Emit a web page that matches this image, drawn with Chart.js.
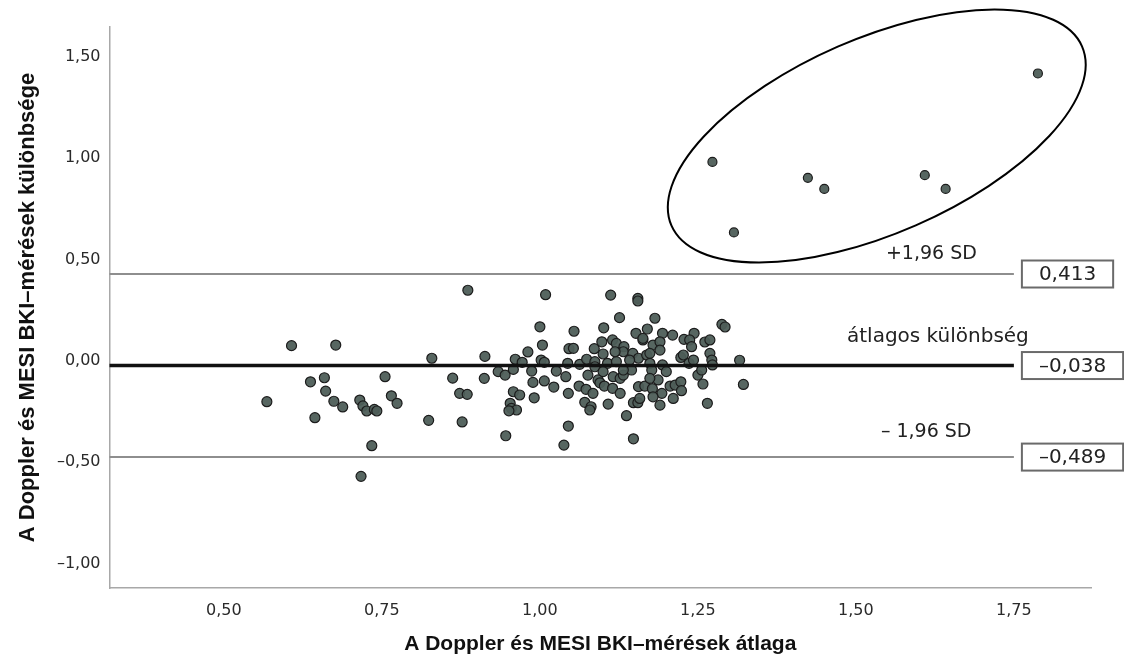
<!DOCTYPE html>
<html><head><meta charset="utf-8">
<script src="https://cdn.jsdelivr.net/npm/chart.js@4.4.0/dist/chart.umd.min.js"></script>
<style>html,body{margin:0;padding:0;background:#fff;}#wrap{width:1124px;height:660px;}</style>
</head><body><div id="wrap"><canvas id="c" width="1124" height="660"></canvas></div>
<script>
// ---- data ----
const meanX = [0.886,0.607,0.677,0.829,0.913,0.568,0.637,0.659,0.661,0.674,0.688,0.644,0.715,0.720,0.726,0.738,0.742,0.755,0.765,0.774,0.734,0.717,0.824,0.862,0.873,0.885,0.877,0.912,
1.009,1.112,1.155,1.155,1.126,1.182,1.000,1.054,1.101,1.152,1.170,1.288,1.293,1.194,1.210,1.244,1.228,1.237,1.261,1.269,
0.981,1.004,1.046,1.053,1.086,1.098,1.115,1.121,1.133,1.163,1.179,1.190,1.190,1.240,
0.961,0.972,1.002,1.007,1.044,1.063,1.074,1.087,1.100,1.107,1.121,1.132,1.147,1.156,1.169,1.174,1.194,1.223,1.227,1.236,1.243,1.269,1.272,1.273,1.316,
0.934,0.945,0.958,0.987,1.026,1.041,1.076,1.087,1.092,1.116,1.127,1.132,1.145,1.177,1.200,1.250,1.256,
0.989,1.007,1.022,1.062,1.073,1.084,1.095,1.102,1.115,1.127,1.156,1.166,1.178,1.187,1.193,1.206,1.214,1.223,1.224,1.258,1.322,
0.958,0.968,0.991,1.045,1.071,1.081,1.079,1.108,1.148,1.155,1.179,1.190,1.265,0.953,0.955,0.963,0.951,1.137,1.045,0.946,1.148,1.038,
1.119,1.174,1.142,1.100,1.132,1.174,1.158,1.211,1.163];
const diffY = [0.333,0.060,0.063,-0.002,0.007,-0.216,-0.118,-0.098,-0.164,-0.214,-0.242,-0.295,-0.208,-0.237,-0.262,-0.254,-0.262,-0.093,-0.187,-0.224,-0.433,-0.584,-0.308,-0.100,-0.175,-0.180,-0.316,-0.101,
0.311,0.309,0.293,0.280,0.198,0.195,0.153,0.131,0.148,0.121,0.142,0.165,0.152,0.121,0.112,0.121,0.091,0.088,0.078,0.088,
0.029,0.063,0.045,0.047,0.045,0.079,0.088,0.071,0.055,0.088,0.063,0.079,0.038,0.055,
-0.007,-0.022,-0.011,-0.022,-0.027,-0.032,-0.007,-0.019,0.019,-0.027,-0.019,0.030,0.022,-0.002,0.014,-0.027,-0.035,0.002,0.014,-0.027,-0.011,0.022,-0.011,-0.035,-0.012,
-0.068,-0.085,-0.057,-0.065,-0.065,-0.093,-0.085,-0.044,-0.109,-0.093,-0.101,-0.085,-0.060,-0.060,-0.068,-0.085,-0.060,
-0.121,-0.114,-0.144,-0.139,-0.155,-0.175,-0.123,-0.139,-0.150,-0.175,-0.142,-0.139,-0.152,-0.109,-0.175,-0.139,-0.134,-0.118,-0.162,-0.129,-0.131,
-0.167,-0.183,-0.197,-0.175,-0.219,-0.241,-0.257,-0.228,-0.221,-0.221,-0.192,-0.233,-0.224,-0.224,-0.249,-0.257,-0.261,-0.285,-0.336,-0.384,-0.399,-0.430,
0.030,0.022,-0.011,-0.068,-0.060,-0.101,-0.200,-0.200,0.096];
const outlierMeanX = [1.788,1.273,1.424,1.450,1.609,1.642,1.307];
const outlierDiffY = [1.401,0.965,0.887,0.832,0.900,0.832,0.618];
const limitValues = [0.413, -0.038, -0.489];
const limitBoxLabels = ['0,413', '\u20130,038', '\u20130,489'];
const limitNames = ['+1,96 SD', 'átlagos különbség', '\u2013 1,96 SD'];
const xTicks = [0.50, 0.75, 1.00, 1.25, 1.50, 1.75];
const yTicks = [-1.00, -0.50, 0.00, 0.50, 1.00, 1.50];
const xTitle = 'A Doppler és MESI BKI\u2013mérések átlaga';
const yTitle = 'A Doppler és MESI BKI\u2013mérések különbsége';
const ellipseCenter = {x: 1.533, y: 1.093};

const fmt = v => (v < 0 ? '\u2013' : '') + Math.abs(v).toFixed(2).replace('.', ',');

const annot = {
  id: 'annot',
  afterDatasetsDraw(chart) {
    const {ctx, scales: {x, y}} = chart;
    const x0 = x.left;
    const x1 = x.getPixelForValue(xTicks[xTicks.length - 1]);
    ctx.save();
    limitValues.forEach((v, i) => {
      const py = y.getPixelForValue(v);
      ctx.strokeStyle = i === 1 ? '#111' : '#8e8e8e';
      ctx.lineWidth = i === 1 ? 3.5 : 2;
      ctx.beginPath(); ctx.moveTo(x0, py); ctx.lineTo(x1, py); ctx.stroke();
      // value box
      ctx.font = '20px "DejaVu Sans"';
      const tw = ctx.measureText(limitBoxLabels[i]).width;
      const bw = tw + 34, bh = 27, bx = x1 + 8;
      ctx.strokeStyle = '#6a6a6a';
      ctx.lineWidth = 2;
      ctx.fillStyle = '#fff';
      ctx.fillRect(bx, py - bh / 2, bw, bh);
      ctx.strokeRect(bx, py - bh / 2, bw, bh);
      ctx.fillStyle = '#222';
      ctx.textAlign = 'center';
      ctx.textBaseline = 'middle';
      ctx.fillText(limitBoxLabels[i], bx + bw / 2, py + 1);
    });
    // names
    ctx.fillStyle = '#222';
    ctx.textBaseline = 'alphabetic';
    ctx.font = '19px "DejaVu Sans"';
    ctx.textAlign = 'left';
    ctx.fillText(limitNames[0], x1 - 128, y.getPixelForValue(limitValues[0]) - 15);
    ctx.fillText(limitNames[2], x1 - 133, y.getPixelForValue(limitValues[2]) - 20);
    ctx.textAlign = 'center';
    ctx.font = '20px "DejaVu Sans"';
    ctx.fillText(limitNames[1], x1 - 76, y.getPixelForValue(limitValues[1]) - 24);
    // outlier ellipse
    const cx = x.getPixelForValue(ellipseCenter.x), cy = y.getPixelForValue(ellipseCenter.y);
    ctx.strokeStyle = '#000';
    ctx.lineWidth = 2;
    ctx.beginPath();
    ctx.ellipse(cx, cy, 224, 97.5, -23.6 * Math.PI / 180, 0, Math.PI * 2);
    ctx.stroke();
    ctx.restore();
  }
};

const ptStyle = {backgroundColor: 'rgba(78,94,88,0.95)', borderColor: '#1c1c1c', borderWidth: 1.2};

new Chart(document.getElementById('c'), {
  type: 'scatter',
  data: {
    datasets: [
      Object.assign({data: meanX.map((v, i) => ({x: v, y: diffY[i]})), pointRadius: 5}, ptStyle),
      Object.assign({data: outlierMeanX.map((v, i) => ({x: v, y: outlierDiffY[i]})), pointRadius: 4.5}, ptStyle)
    ]
  },
  options: {
    responsive: false, animation: false, devicePixelRatio: 1,
    layout: {padding: {top: 27, right: 33, bottom: 0, left: 0}},
    plugins: {legend: {display: false}, tooltip: {enabled: false}},
    scales: {
      x: {
        type: 'linear', min: 0.319, max: 1.872,
        grid: {display: false, drawTicks: false},
        border: {display: true, color: '#a8a8a8', width: 1.5},
        afterBuildTicks: s => { s.ticks = xTicks.map(v => ({value: v})); },
        afterFit: s => { s.height = 72; },
        ticks: {padding: 13, autoSkip: false, maxRotation: 0, font: {family: 'DejaVu Sans', size: 16}, color: '#2a2a2a', callback: v => fmt(v)},
        title: {display: true, text: xTitle, color: '#111', font: {family: 'Liberation Sans', size: 21, weight: 'bold'}, padding: {top: 0, bottom: 3}}
      },
      y: {
        type: 'linear', min: -1.134, max: 1.630,
        grid: {display: false, drawTicks: false},
        border: {display: true, color: '#a8a8a8', width: 1.5},
        afterBuildTicks: s => { s.ticks = yTicks.map(v => ({value: v})); },
        afterFit: s => { s.width = 109.5; },
        ticks: {padding: 9, labelOffset: 3, autoSkip: false, font: {family: 'DejaVu Sans', size: 16}, color: '#2a2a2a', callback: v => fmt(v)},
        title: {display: true, text: yTitle, color: '#111', font: {family: 'Liberation Sans', size: 22, weight: 'bold'}, padding: {top: 15, bottom: 0}}
      }
    }
  },
  plugins: [annot]
});
</script>
</body></html>
